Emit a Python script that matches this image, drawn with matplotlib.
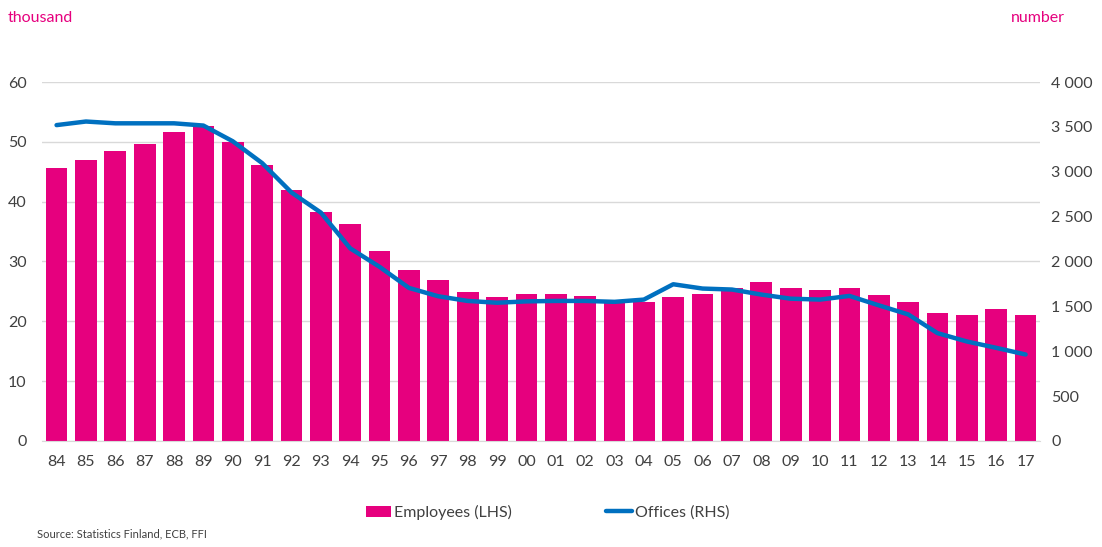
import matplotlib.pyplot as plt
import numpy as np

years = ['84', '85', '86', '87', '88', '89', '90', '91', '92', '93', '94',
         '95', '96', '97', '98', '99', '00', '01', '02', '03', '04', '05',
         '06', '07', '08', '09', '10', '11', '12', '13', '14', '15', '16', '17']

# thousand employees (LHS)
employees = [45.6, 46.9, 48.5, 49.6, 51.7, 52.7, 49.9, 46.2, 41.9, 38.2, 36.2,
             31.8, 28.5, 26.9, 24.9, 24.1, 24.5, 24.6, 24.3, 23.3, 23.3, 24.0,
             24.5, 25.5, 26.5, 25.5, 25.3, 25.5, 24.4, 23.3, 21.4, 21.1, 22.0, 21.1]

# number of offices (RHS)
offices = [3520, 3560, 3540, 3540, 3540, 3515, 3340, 3097, 2769, 2545, 2146,
           1940, 1705, 1612, 1560, 1540, 1555, 1560, 1560, 1550, 1575, 1746,
           1698, 1687, 1631, 1585, 1575, 1616, 1511, 1410, 1201, 1108, 1037, 963]

left_ticks = [0, 10, 20, 30, 40, 50, 60]
right_ticks = [0, 500, 1000, 1500, 2000, 2500, 3000, 3500, 4000]

PINK = '#E6007E'
BLUE = '#0070C0'
GREY = '#404040'

plt.rcParams['font.family'] = ['Lato', 'DejaVu Sans']


def main():
    fig = plt.figure(figsize=(11.02, 5.47), dpi=100)
    ax = fig.add_axes([0.038, 0.194, 0.906, 0.656])
    x = np.arange(len(years))

    bars = ax.bar(x, employees, width=0.74, color=PINK, zorder=2,
                  label='Employees (LHS)')
    ax.set_ylim(0, 60)
    ax.set_yticks(left_ticks)
    ax.set_xlim(-0.5, len(years) - 0.5)
    ax.set_xticks(x, labels=years)
    ax.grid(axis='y', color='#D9D9D9', linewidth=1, zorder=0)
    ax.set_axisbelow(True)

    ax2 = ax.twinx()
    line, = ax2.plot(x, offices, color=BLUE, linewidth=3.2, zorder=3,
                     solid_capstyle='round', label='Offices (RHS)')
    ax2.set_ylim(0, 4000)
    ax2.set_yticks(right_ticks,
                   labels=['{:,}'.format(v).replace(',', ' ') for v in right_ticks])

    for a in (ax, ax2):
        for s in a.spines.values():
            s.set_visible(False)
        a.tick_params(length=0, labelsize=11.5, colors=GREY)
    ax.tick_params(axis='y', pad=11)
    ax.tick_params(axis='x', pad=10)
    ax2.tick_params(axis='y', pad=8)
    ax.spines['bottom'].set_visible(True)
    ax.spines['bottom'].set_color('#D9D9D9')

    fig.text(0.007, 0.967, 'thousand', color=PINK, fontsize=11.5, va='center')
    fig.text(0.966, 0.967, 'number', color=PINK, fontsize=11.5, va='center',
             ha='right')

    fig.legend([bars, line], ['Employees (LHS)', 'Offices (RHS)'],
               loc='center', bbox_to_anchor=(0.497, 0.063), ncol=2, frameon=False,
               fontsize=11.5, handlelength=1.6, handletextpad=0.2,
               columnspacing=5.9, labelcolor=GREY)

    fig.text(0.034, 0.013, 'Source: Statistics Finland, ECB, FFI', fontsize=8,
             color=GREY, va='bottom')

    fig.savefig('out.png', dpi=100)
    plt.close()


if __name__ == "__main__":
    main()
